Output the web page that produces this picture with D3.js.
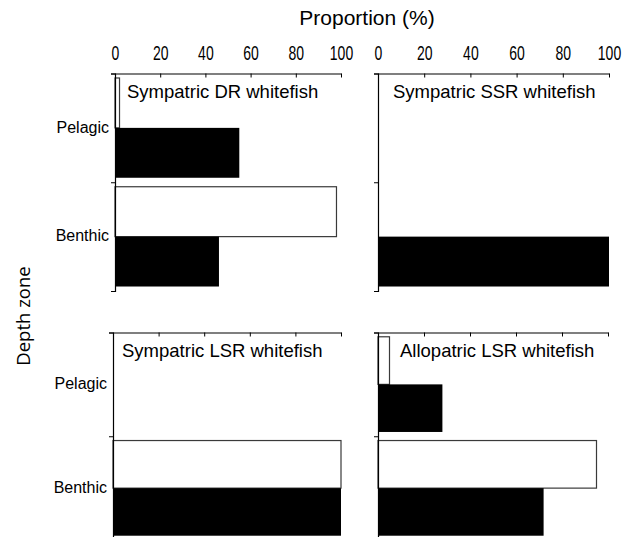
<!DOCTYPE html>
<html>
<head>
<meta charset="utf-8">
<script src="https://cdn.jsdelivr.net/npm/d3@7"></script>
<style>
  html, body { margin: 0; padding: 0; background: #fff; }
  svg { display: block; }
  text { font-family: "Liberation Sans", Arial, sans-serif; fill: #000; }
</style>
</head>
<body>
<svg id="chart" width="635" height="537"></svg>
<script>
// Depth zones (rows of every panel)
const zones = ["Pelagic", "Benthic"];
// Panel titles, in reading order
const panelTitles = [
  "Sympatric DR whitefish",
  "Sympatric SSR whitefish",
  "Sympatric LSR whitefish",
  "Allopatric LSR whitefish"
];
// Proportion (%) per zone: open bars and filled bars for each panel
const openValues   = [[2, 98], [0, 0], [0, 100], [5, 95]];
const filledValues = [[55, 46], [0, 100], [0, 100], [28, 72]];
const seriesKeys = ["open", "filled"];
const xTicks = [0, 20, 40, 60, 80, 100];

// Panel frames on the page
const frames = [
  { x0: 115, x1: 341, y0: 73.5, y1: 291, titleDx: 12, tickLabels: true,  zoneLabels: true  },
  { x0: 378, x1: 609, y0: 73.5, y1: 291, titleDx: 15, tickLabels: true,  zoneLabels: false },
  { x0: 113, x1: 341, y0: 332.5, y1: 540, titleDx: 9,  tickLabels: false, zoneLabels: true  },
  { x0: 378, x1: 608, y0: 332.5, y1: 540, titleDx: 22, tickLabels: false, zoneLabels: false }
];

const svg = d3.select("#chart");

frames.forEach((f, i) => {
  const g = svg.append("g");
  const x = d3.scaleLinear().domain([0, 100]).range([f.x0, f.x1]);
  const y = d3.scaleBand().domain(zones).range([f.y0, f.y1]).padding(0);
  const ySub = d3.scaleBand().domain(seriesKeys).range([0, y.bandwidth()])
    .paddingInner(0).paddingOuter(0.09);
  const yEdge = d3.scaleLinear().domain([0, zones.length]).range([f.y0, f.y1]);

  const rows = zones.map((z, k) => ({ zone: z, open: openValues[i][k], filled: filledValues[i][k] }));

  // bars
  rows.forEach(r => {
    seriesKeys.forEach(s => {
      const v = r[s];
      if (v <= 0) return;
      g.append("rect")
        .attr("x", x(0))
        .attr("y", y(r.zone) + ySub(s))
        .attr("width", x(v) - x(0))
        .attr("height", ySub.bandwidth())
        .attr("fill", s === "open" ? "#fff" : "#000")
        .attr("stroke", s === "open" ? "#3a3a3a" : "none")
        .attr("stroke-width", 1.2);
    });
  });

  // top value axis, ticks crossing downward
  const xAxis = d3.axisTop(x).tickValues(xTicks).tickSizeInner(-4).tickSizeOuter(0).tickPadding(13.5)
    .tickFormat(f.tickLabels ? d3.format("d") : () => "");
  const gx = g.append("g").attr("transform", `translate(0,${f.y0})`).call(xAxis);
  gx.selectAll("text")
    .style("font-size", "20px")
    .attr("font-family", "Liberation Sans, Arial, sans-serif")
    .attr("transform", "scale(0.7,1)");
  gx.select(".domain").attr("stroke", "#000").attr("stroke-width", 1.2);
  gx.selectAll(".tick line").attr("stroke", "#000");

  // zone axis: boundary ticks
  const yAxis = d3.axisLeft(yEdge).tickValues([0, 1, 2]).tickSize(4).tickFormat(() => "");
  const gy = g.append("g").attr("transform", `translate(${f.x0},0)`).call(yAxis);
  gy.select(".domain").attr("stroke", "#000").attr("stroke-width", 1.2);
  gy.selectAll(".tick line").attr("stroke", "#000");

  // zone labels
  if (f.zoneLabels) {
    const gl = g.append("g").attr("transform", `translate(${f.x0},0)`)
      .call(d3.axisLeft(y).tickSize(0).tickPadding(6));
    gl.select(".domain").remove();
    gl.selectAll("text").style("font-size", "16px").attr("font-family", "Liberation Sans, Arial, sans-serif")
      .attr("dy", "0.3em");
  }

  // panel title
  g.append("text")
    .attr("x", f.x0 + f.titleDx)
    .attr("y", f.y0 + 24)
    .style("font-size", "18.5px")
    .text(panelTitles[i]);
});

// shared axis titles
svg.append("text")
  .attr("x", 367).attr("y", 25)
  .attr("text-anchor", "middle")
  .style("font-size", "21px")
  .text("Proportion (%)");

svg.append("text")
  .attr("transform", "translate(30,316) rotate(-90)")
  .attr("text-anchor", "middle")
  .style("font-family", "'Open Sans', sans-serif")
  .style("font-size", "18.5px")
  .text("Depth zone");
</script>
</body>
</html>
